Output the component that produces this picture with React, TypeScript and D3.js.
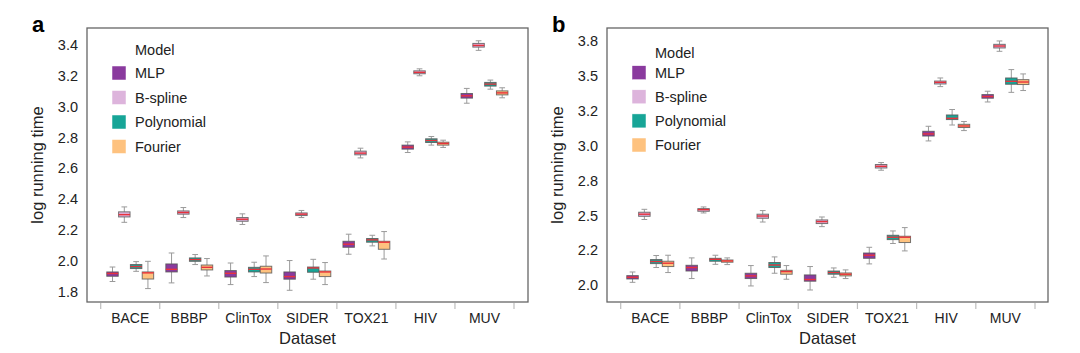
import React, { useEffect, useRef } from "react";
import * as d3 from "d3";

// datasets along the x axis, models within each dataset
const datasets = ["BACE", "BBBP", "ClinTox", "SIDER", "TOX21", "HIV", "MUV"];
const models = ["MLP", "B-spline", "Polynomial", "Fourier"];
const modelColors = ["#8a3a9e", "#ddb4dc", "#17a597", "#fec27f"];

// [whisker low, q1, median, q3, whisker high] per dataset
const aMLP = [
  [1.866, 1.9, 1.918, 1.928, 1.96],
  [1.857, 1.928, 1.945, 1.98, 2.051],
  [1.846, 1.895, 1.919, 1.937, 1.986],
  [1.809, 1.881, 1.898, 1.928, 2.002],
  [2.043, 2.088, 2.108, 2.127, 2.173],
  [2.703, 2.725, 2.738, 2.751, 2.772],
  [3.023, 3.056, 3.071, 3.086, 3.119],
];
const aBspline = [
  [2.25, 2.285, 2.3, 2.318, 2.35],
  [2.281, 2.303, 2.314, 2.324, 2.346],
  [2.236, 2.257, 2.27, 2.281, 2.305],
  [2.281, 2.294, 2.303, 2.311, 2.327],
  [2.668, 2.688, 2.699, 2.712, 2.731],
  [3.201, 3.214, 3.223, 3.233, 3.246],
  [3.366, 3.387, 3.398, 3.411, 3.428],
];
const aPoly = [
  [1.932, 1.95, 1.963, 1.976, 1.995],
  [1.976, 1.997, 2.008, 2.019, 2.041],
  [1.898, 1.928, 1.945, 1.958, 1.991],
  [1.881, 1.926, 1.954, 1.96, 2.01],
  [2.097, 2.121, 2.136, 2.145, 2.166],
  [2.751, 2.768, 2.781, 2.792, 2.807],
  [3.114, 3.134, 3.147, 3.158, 3.173],
];
const aFourier = [
  [1.82, 1.882, 1.922, 1.928, 1.997],
  [1.902, 1.941, 1.958, 1.973, 2.015],
  [1.859, 1.921, 1.947, 1.965, 2.032],
  [1.846, 1.898, 1.928, 1.934, 1.989],
  [2.012, 2.075, 2.121, 2.127, 2.19],
  [2.736, 2.751, 2.762, 2.77, 2.783],
  [3.058, 3.077, 3.09, 3.103, 3.123],
];

const bMLP = [
  [2.021, 2.045, 2.057, 2.069, 2.095],
  [2.048, 2.102, 2.127, 2.143, 2.196],
  [1.995, 2.048, 2.067, 2.086, 2.141],
  [1.966, 2.029, 2.041, 2.074, 2.134],
  [2.153, 2.193, 2.215, 2.231, 2.272],
  [3.034, 3.069, 3.084, 3.103, 3.139],
  [3.313, 3.34, 3.352, 3.366, 3.39],
];
const bBspline = [
  [2.471, 2.494, 2.509, 2.523, 2.544],
  [2.518, 2.53, 2.542, 2.549, 2.561],
  [2.453, 2.48, 2.496, 2.509, 2.535],
  [2.42, 2.442, 2.456, 2.468, 2.489],
  [2.824, 2.84, 2.852, 2.865, 2.879],
  [3.423, 3.442, 3.454, 3.463, 3.485],
  [3.676, 3.7, 3.714, 3.726, 3.75],
];
const bPoly = [
  [2.127, 2.155, 2.17, 2.184, 2.213],
  [2.15, 2.172, 2.186, 2.193, 2.215],
  [2.086, 2.127, 2.145, 2.163, 2.203],
  [2.057, 2.079, 2.091, 2.102, 2.124],
  [2.299, 2.327, 2.344, 2.358, 2.389],
  [3.148, 3.187, 3.196, 3.22, 3.259],
  [3.382, 3.44, 3.461, 3.485, 3.545],
];
const bFourier = [
  [2.091, 2.134, 2.158, 2.172, 2.215],
  [2.148, 2.165, 2.174, 2.181, 2.196],
  [2.043, 2.079, 2.098, 2.107, 2.141],
  [2.048, 2.067, 2.079, 2.088, 2.11],
  [2.246, 2.306, 2.344, 2.351, 2.413],
  [3.108, 3.13, 3.141, 3.153, 3.173],
  [3.395, 3.438, 3.456, 3.473, 3.514],
];

const aTicks = [1.8, 2.0, 2.2, 2.4, 2.6, 2.8, 3.0, 3.2, 3.4];
const aTickLabels = ["1.8", "2.0", "2.2", "2.4", "2.6", "2.8", "3.0", "3.2", "3.4"];
const bTicks = [2.0, 2.25, 2.5, 2.75, 3.0, 3.25, 3.5, 3.75];
const bTickLabels = ["2.0", "2.2", "2.5", "2.8", "3.0", "3.2", "3.5", "3.8"];

const FONT = "'Liberation Sans', Arial, sans-serif";

const panels = [
  {
    letter: "a",
    left: 87,
    right: 528,
    bandRange: [100.7, 514],
    yDomain: [1.733, 3.511],
    ticks: aTicks,
    tickLabels: aTickLabels,
    series: [aMLP, aBspline, aPoly, aFourier],
    legendX: 112,
    legendTitleY: 55,
    legendRowY: 73,
    legendStep: 24.5,
  },
  {
    letter: "b",
    left: 607,
    right: 1048,
    bandRange: [620.7, 1035],
    yDomain: [1.88, 3.843],
    ticks: bTicks,
    tickLabels: bTickLabels,
    series: [bMLP, bBspline, bPoly, bFourier],
    legendX: 632,
    legendTitleY: 58,
    legendRowY: 72.7,
    legendStep: 24.1,
  },
];

const App = () => {
  const svgRef = useRef(null);

  useEffect(() => {
    const svg = d3.select(svgRef.current);
    svg.selectAll("*").remove();
    const top = 28;
    const bottom = 302;

    panels.forEach((p) => {
      const g = svg.append("g");
      const x = d3.scaleBand().domain(datasets).range(p.bandRange);
      const inner = d3
        .scaleBand()
        .domain(models)
        .range([x.bandwidth() * 0.1, x.bandwidth() * 0.9]);
      const y = d3.scaleLinear().domain(p.yDomain).range([bottom, top]);

      // panel letter
      g.append("text")
        .attr("x", p.left - 55)
        .attr("y", 32)
        .attr("font-family", FONT)
        .attr("font-weight", "bold")
        .attr("font-size", 22)
        .text(p.letter);

      // x tick marks at category boundaries
      const bounds = datasets.map((d) => x(d)).concat([p.bandRange[1]]);
      g.selectAll(".xtick")
        .data(bounds)
        .enter()
        .append("line")
        .attr("x1", (d) => d)
        .attr("x2", (d) => d)
        .attr("y1", bottom + 1)
        .attr("y2", bottom + 7)
        .attr("stroke", "#bdbdbd")
        .attr("stroke-width", 1.2);

      g.selectAll(".xlab")
        .data(datasets)
        .enter()
        .append("text")
        .attr("x", (d) => x(d) + x.bandwidth() / 2)
        .attr("y", 323)
        .attr("text-anchor", "middle")
        .attr("font-family", FONT)
        .attr("font-size", 14)
        .attr("fill", "#222")
        .text((d) => d);

      g.selectAll(".ylab")
        .data(p.ticks)
        .enter()
        .append("text")
        .attr("x", p.left - 9)
        .attr("y", (d) => y(d))
        .attr("dy", "0.35em")
        .attr("text-anchor", "end")
        .attr("font-family", FONT)
        .attr("font-size", 14.5)
        .attr("fill", "#222")
        .text((d, i) => p.tickLabels[i]);

      g.append("text")
        .attr("x", (p.left + p.right) / 2)
        .attr("y", 344)
        .attr("text-anchor", "middle")
        .attr("font-family", FONT)
        .attr("font-size", 16.5)
        .attr("fill", "#222")
        .text("Dataset");

      g.append("text")
        .attr("transform", `translate(${p.left - 44},${(top + bottom) / 2}) rotate(-90)`)
        .attr("text-anchor", "middle")
        .attr("font-family", FONT)
        .attr("font-size", 16.5)
        .attr("fill", "#222")
        .text("log running time");

      // boxes
      p.series.forEach((rows, mi) => {
        const bw = inner.bandwidth() * 0.97;
        rows.forEach((s, di) => {
          const cx = x(datasets[di]) + inner(models[mi]) + inner.bandwidth() / 2;
          const [lo, q1, med, q3, hi] = s;
          const bg = g.append("g");
          bg.append("line")
            .attr("x1", cx).attr("x2", cx)
            .attr("y1", y(hi)).attr("y2", y(q3))
            .attr("stroke", "#9a9a9a").attr("stroke-width", 1);
          bg.append("line")
            .attr("x1", cx).attr("x2", cx)
            .attr("y1", y(q1)).attr("y2", y(lo))
            .attr("stroke", "#9a9a9a").attr("stroke-width", 1);
          [lo, hi].forEach((v) => {
            bg.append("line")
              .attr("x1", cx - bw / 4).attr("x2", cx + bw / 4)
              .attr("y1", y(v)).attr("y2", y(v))
              .attr("stroke", "#9a9a9a").attr("stroke-width", 1);
          });
          bg.append("rect")
            .attr("x", cx - bw / 2)
            .attr("y", y(q3))
            .attr("width", bw)
            .attr("height", Math.max(y(q1) - y(q3), 1))
            .attr("fill", modelColors[mi])
            .attr("stroke", "#555")
            .attr("stroke-opacity", 0.8)
            .attr("stroke-width", 1);
          bg.append("line")
            .attr("x1", cx - bw / 2).attr("x2", cx + bw / 2)
            .attr("y1", y(med)).attr("y2", y(med))
            .attr("stroke", "#e8323c").attr("stroke-width", 1.4);
        });
      });

      // frame
      g.append("rect")
        .attr("x", p.left)
        .attr("y", top)
        .attr("width", p.right - p.left)
        .attr("height", bottom - top)
        .attr("fill", "none")
        .attr("stroke", "#666")
        .attr("stroke-width", 1.3);

      // legend
      const lg = g.append("g");
      lg.append("text")
        .attr("x", p.legendX + 23)
        .attr("y", p.legendTitleY)
        .attr("font-family", FONT)
        .attr("font-size", 14.5)
        .attr("fill", "#222")
        .text("Model");
      models.forEach((m, i) => {
        const cy = p.legendRowY + i * p.legendStep;
        lg.append("rect")
          .attr("x", p.legendX)
          .attr("y", cy - 7)
          .attr("width", 14)
          .attr("height", 14)
          .attr("fill", modelColors[i])
          .attr("stroke", "#fff")
          .attr("stroke-width", 0.5);
        lg.append("text")
          .attr("x", p.legendX + 23)
          .attr("y", cy)
          .attr("dy", "0.35em")
          .attr("font-family", FONT)
          .attr("font-size", 14.5)
          .attr("fill", "#222")
          .text(m);
      });
    });
  }, []);

  return (
    <svg
      ref={svgRef}
      width={1080}
      height={353}
      style={{ position: "absolute", left: 0, top: 0, background: "#fff" }}
    ></svg>
  );
};

export default App;
